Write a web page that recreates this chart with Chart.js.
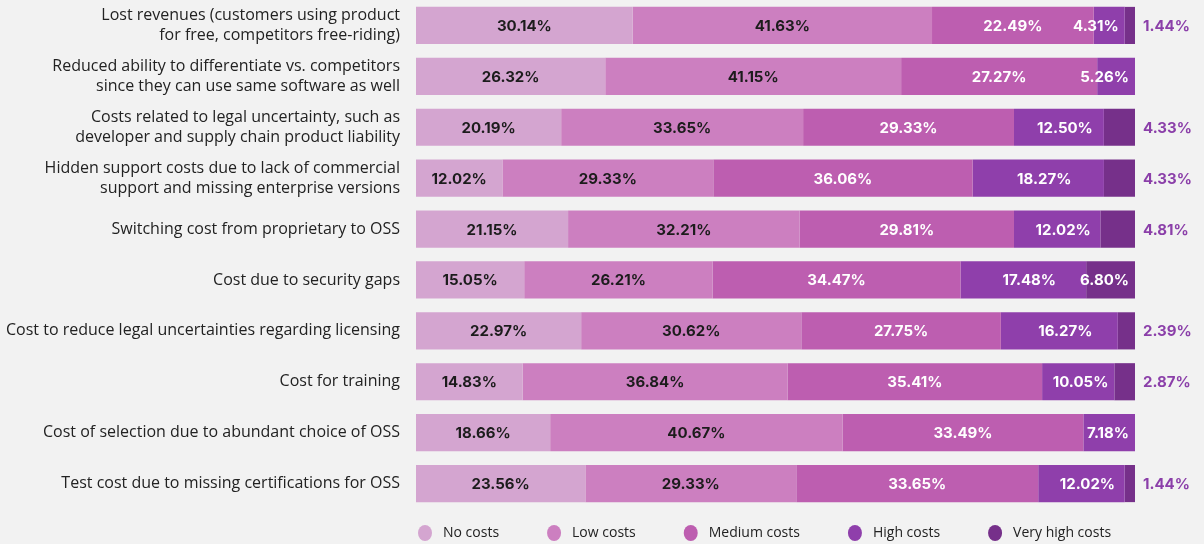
<!DOCTYPE html>
<html>
<head>
<meta charset="utf-8">
<script src="https://cdn.jsdelivr.net/npm/chart.js@4.4.1/dist/chart.umd.min.js"></script>
<style>
  html, body { margin: 0; padding: 0; background: #f2f2f2; }
  #wrap { width: 1204px; height: 544px; }
</style>
</head>
<body>
<div id="wrap"><canvas id="costChart" width="1204" height="544"></canvas></div>
<script>
const categories = [
    ["Lost revenues (customers using product", "for free, competitors free-riding)"],
    ["Reduced ability to differentiate vs. competitors", "since they can use same software as well"],
    ["Costs related to legal uncertainty, such as", "developer and supply chain product liability"],
    ["Hidden support costs due to lack of commercial", "support and missing enterprise versions"],
    "Switching cost from proprietary to OSS",
    "Cost due to security gaps",
    "Cost to reduce legal uncertainties regarding licensing",
    "Cost for training",
    "Cost of selection due to abundant choice of OSS",
    "Test cost due to missing certifications for OSS"
];

const seriesNames = ["No costs", "Low costs", "Medium costs", "High costs", "Very high costs"];

const noCosts       = [30.14, 26.32, 20.19, 12.02, 21.15, 15.05, 22.97, 14.83, 18.66, 23.56];
const lowCosts      = [41.63, 41.15, 33.65, 29.33, 32.21, 26.21, 30.62, 36.84, 40.67, 29.33];
const mediumCosts   = [22.49, 27.27, 29.33, 36.06, 29.81, 34.47, 27.75, 35.41, 33.49, 33.65];
const highCosts     = [4.31, 5.26, 12.50, 18.27, 12.02, 17.48, 16.27, 10.05, 7.18, 12.02];
const veryHighCosts = [1.44, 0, 4.33, 4.33, 4.81, 6.80, 2.39, 2.87, 0, 1.44];

const colors = ["#d4a5d0", "#cc7fc0", "#bd5eb0", "#8f3fab", "#76308a"];
const textColors = ["#1c1c1c", "#1c1c1c", "#ffffff", "#ffffff", "#ffffff"];
const outsideColor = "#8b3fa9";
const valueFont = "bold 15px Inter";

const allSeries = [noCosts, lowCosts, mediumCosts, highCosts, veryHighCosts];

// value labels on each segment; thin last segments get their label outside the bar
const segmentLabels = {
    id: "segmentLabels",
    afterDatasetsDraw(chart) {
        const ctx = chart.ctx;
        const last = chart.data.datasets.length - 1;
        ctx.save();
        ctx.font = valueFont;
        ctx.textBaseline = "middle";
        chart.data.datasets.forEach((ds, di) => {
            const meta = chart.getDatasetMeta(di);
            meta.data.forEach((bar, i) => {
                const v = ds.data[i];
                if (!v) return;
                const text = v.toFixed(2) + "%";
                const w = ctx.measureText(text).width;
                const left = Math.min(bar.base, bar.x);
                const right = Math.max(bar.base, bar.x);
                if (di === last && v < 5) {
                    ctx.fillStyle = outsideColor;
                    ctx.textAlign = "left";
                    ctx.fillText(text, chart.chartArea.right + 8, bar.y + 1);
                    return;
                }
                let cx = (left + right) / 2;
                if (di === 3) cx += 6;
                if (cx + w / 2 > right - 6) cx = right - 6 - w / 2;
                ctx.fillStyle = textColors[di];
                ctx.textAlign = "center";
                ctx.fillText(text, cx, bar.y + 1);
            });
        });
        ctx.restore();
    }
};

// circle legend under the bars
const circleLegend = {
    id: "circleLegend",
    afterDraw(chart) {
        const ctx = chart.ctx;
        let x = chart.chartArea.left + 1;
        const y = 533;
        ctx.save();
        ctx.font = "14px 'Open Sans'";
        ctx.textBaseline = "middle";
        ctx.textAlign = "left";
        chart.data.datasets.forEach((ds) => {
            ctx.fillStyle = ds.backgroundColor;
            ctx.beginPath();
            ctx.ellipse(x + 8, y, 7, 8, 0, 0, Math.PI * 2);
            ctx.fill();
            ctx.fillStyle = "#222222";
            ctx.fillText(ds.label, x + 26, y);
            x += 26 + ctx.measureText(ds.label).width + 47;
        });
        ctx.restore();
    }
};

const ctx = document.getElementById("costChart").getContext("2d");
const costChart = new Chart(ctx, {
    type: "bar",
    data: {
        labels: categories,
        datasets: seriesNames.map((name, i) => ({
            label: name,
            data: allSeries[i],
            backgroundColor: colors[i],
            borderWidth: 0,
            barPercentage: 1,
            categoryPercentage: 0.73,
        })),
    },
    options: {
        indexAxis: "y",
        responsive: false,
        animation: false,
        layout: {
            padding: { top: 0, right: 69, bottom: 35, left: 0 },
        },
        scales: {
            x: {
                stacked: true,
                display: false,
                min: 0,
                max: 100,
            },
            y: {
                stacked: true,
                grid: { display: false, drawTicks: false },
                border: { display: false },
                ticks: {
                    color: "#222222",
                    padding: 16,
                    font: { family: "'Open Sans'", size: 16, lineHeight: 1.25 },
                },
                afterFit(scale) {
                    scale.width = 416;
                    scale.paddingTop = 0;
                    scale.paddingBottom = 0;
                },
            },
        },
        plugins: {
            legend: { display: false },
            tooltip: { enabled: false },
        },
    },
    plugins: [segmentLabels, circleLegend],
});
</script>
</body>
</html>
